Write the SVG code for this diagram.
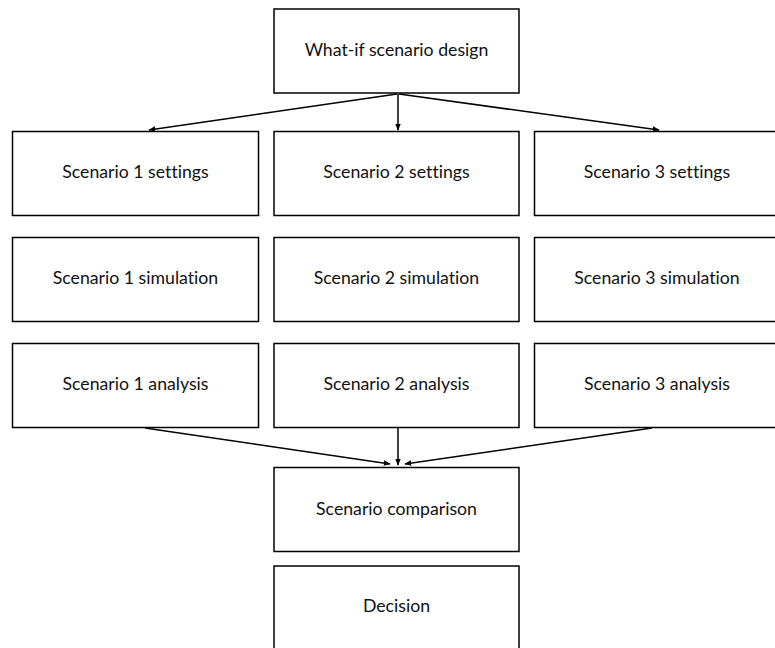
<svg xmlns="http://www.w3.org/2000/svg" width="775" height="648" viewBox="0 0 775 648">
<defs>
<style>
.box{fill:#fff;stroke:#000;stroke-width:1.5}
.lbl{font-family:Lato,"Liberation Sans",sans-serif;font-size:17.7px;fill:#111;text-anchor:middle;dominant-baseline:central;font-variant-ligatures:none}
.con{stroke:#000;stroke-width:1.5;fill:none;marker-end:url(#ah)}
</style>
<marker id="ah" viewBox="0 0 10 10" refX="9" refY="5" markerWidth="7" markerHeight="7" markerUnits="userSpaceOnUse" orient="auto">
<path d="M0,1 L10,5 L0,9 z" fill="#000"/>
</marker>
</defs>
<rect width="775" height="648" fill="#fff"/>
<g id="design"><rect class="box" x="274" y="9" width="245" height="84"/><text class="lbl" x="396.5" y="49">What-if scenario design</text></g>
<g id="s1set"><rect class="box" x="12.5" y="131.5" width="246" height="84"/><text class="lbl" x="135.5" y="171">Scenario 1 settings</text></g>
<g id="s2set"><rect class="box" x="274" y="131.5" width="245" height="84"/><text class="lbl" x="396.5" y="171">Scenario 2 settings</text></g>
<g id="s3set"><rect class="box" x="534.5" y="131.5" width="245" height="84"/><text class="lbl" x="657" y="171">Scenario 3 settings</text></g>
<g id="s1sim"><rect class="box" x="12.5" y="237.5" width="246" height="84"/><text class="lbl" x="135.5" y="277">Scenario 1 simulation</text></g>
<g id="s2sim"><rect class="box" x="274" y="237.5" width="245" height="84"/><text class="lbl" x="396.5" y="277">Scenario 2 simulation</text></g>
<g id="s3sim"><rect class="box" x="534.5" y="237.5" width="245" height="84"/><text class="lbl" x="657" y="277">Scenario 3 simulation</text></g>
<g id="s1ana"><rect class="box" x="12.5" y="343.5" width="246" height="84"/><text class="lbl" x="135.5" y="383">Scenario 1 analysis</text></g>
<g id="s2ana"><rect class="box" x="274" y="343.5" width="245" height="84"/><text class="lbl" x="396.5" y="383">Scenario 2 analysis</text></g>
<g id="s3ana"><rect class="box" x="534.5" y="343.5" width="245" height="84"/><text class="lbl" x="657" y="383">Scenario 3 analysis</text></g>
<g id="compare"><rect class="box" x="274" y="467.5" width="245" height="84"/><text class="lbl" x="396.5" y="508">Scenario comparison</text></g>
<g id="decision"><rect class="box" x="274" y="566" width="245" height="90"/><text class="lbl" x="396.5" y="605">Decision</text></g>
<g id="connectors">
<line class="con" x1="397" y1="94" x2="149" y2="130"/>
<line class="con" x1="398" y1="94" x2="398" y2="130"/>
<line class="con" x1="399" y1="94" x2="659" y2="130"/>
<line class="con" x1="145" y1="428" x2="390" y2="464"/>
<line class="con" x1="398" y1="428" x2="398" y2="465"/>
<line class="con" x1="652" y1="428" x2="405" y2="464"/>
</g>
</svg>
